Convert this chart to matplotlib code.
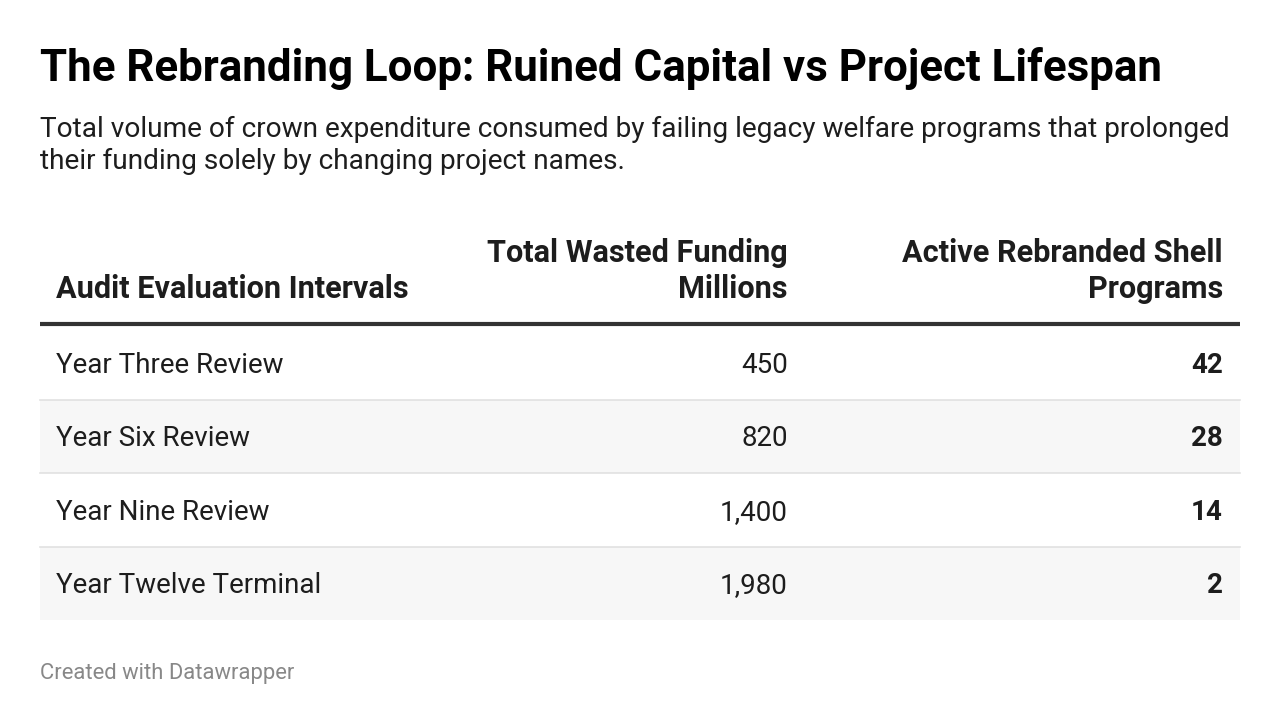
import matplotlib
matplotlib.use("Agg")
import matplotlib.pyplot as plt
from matplotlib.patches import Rectangle

# ---- data ----
title = "The Rebranding Loop: Ruined Capital vs Project Lifespan"
subtitle_lines = ["Total volume of crown expenditure consumed by failing legacy welfare programs that prolonged",
                  "their funding solely by changing project names."]
col_headers = ["Audit Evaluation Intervals", "Total Wasted Funding\nMillions", "Active Rebranded Shell\nPrograms"]
intervals = ["Year Three Review", "Year Six Review", "Year Nine Review", "Year Twelve Terminal"]
wasted_funding = [450, 820, 1400, 1980]
shell_programs = [42, 28, 14, 2]
footer = "Created with Datawrapper"

W, H = 1280, 726
fig = plt.figure(figsize=(W / 100, H / 100), dpi=100)
ax = fig.add_axes([0, 0, 1, 1])
ax.set_xlim(0, W)
ax.set_ylim(H, 0)
ax.axis("off")

FONT = "Roboto"
def px(p):
    return p * 0.72

TXT = "#1d1d1d"

ax.text(40, 81, title, fontsize=px(43.9), fontweight="bold", family=FONT,
        color="#000000", va="baseline", ha="left")
for i, line in enumerate(subtitle_lines):
    ax.text(40, 137 + i * 32, line, fontsize=px(28.0), family=FONT, color=TXT,
            va="baseline", ha="left")

left, right = 40, 1240
col_x = [56, 788, 1223]
col_ha = ["left", "right", "right"]
header_base = 298
header_lh = 36
for j, h in enumerate(col_headers):
    lines = h.split("\n")
    n = len(lines)
    for k, ln in enumerate(lines):
        ax.text(col_x[j], header_base - (n - 1 - k) * header_lh, ln, fontsize=px(30.6),
                fontweight="bold", family=FONT, color=TXT, va="baseline", ha=col_ha[j])

ax.plot([left, right], [324, 324], color="#333333", lw=3.0, solid_capstyle="butt")

row_top = 326
row_h = 73.5
for i in range(len(intervals)):
    y0 = row_top + i * row_h
    if i % 2 == 1:
        ax.add_patch(Rectangle((left, y0), right - left, row_h, facecolor="#f7f7f7",
                               edgecolor="none", zorder=0))
    if i < len(intervals) - 1:
        ax.plot([left, right], [y0 + row_h, y0 + row_h], color="#e1e1e1", lw=1.2, zorder=1)
    base = y0 + row_h / 2 + 10
    ax.text(col_x[0], base, intervals[i], fontsize=px(27.7), family=FONT, color=TXT,
            va="baseline", ha="left")
    ax.text(col_x[1], base, f"{wasted_funding[i]:,}", fontsize=px(27.7), family=FONT,
            color=TXT, va="baseline", ha="right")
    ax.text(col_x[2], base, f"{shell_programs[i]}", fontsize=px(27.7), family=FONT,
            fontweight="bold", color=TXT, va="baseline", ha="right")

ax.text(40, 679, footer, fontsize=px(22), family=FONT, color="#888888",
        va="baseline", ha="left")

fig.savefig("out.png", dpi=100, facecolor="white")
